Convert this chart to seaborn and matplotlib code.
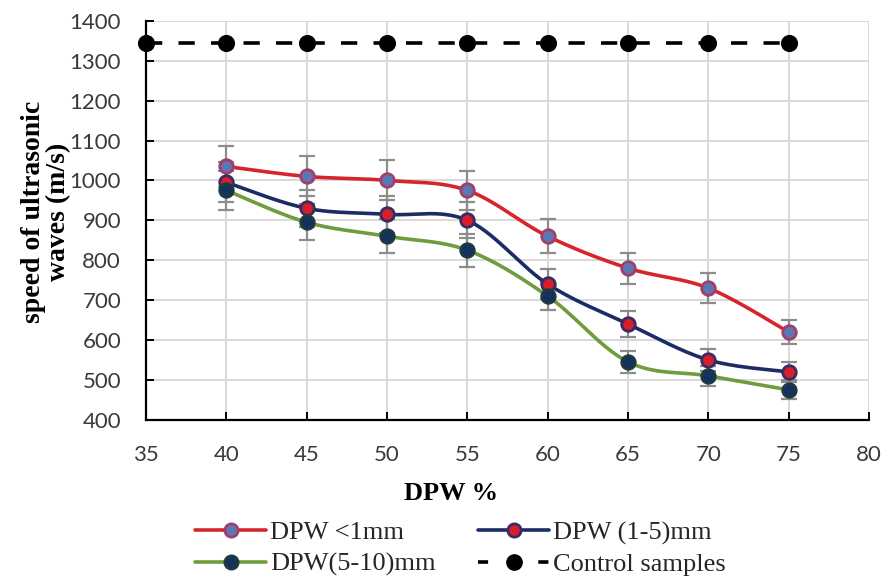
import numpy as np
import pandas as pd
import matplotlib
matplotlib.use("Agg")
import matplotlib.pyplot as plt
from matplotlib.lines import Line2D
import seaborn as sns

# DPW content (%)
dpw = [40, 45, 50, 55, 60, 65, 70, 75]
control_x = [35, 40, 45, 50, 55, 60, 65, 70, 75]

# Ultrasonic pulse velocity (m/s) for each waste particle size
speed_lt1 = [1035, 1010, 1000, 975, 860, 780, 730, 620]
err_lt1 = [52, 50, 50, 49, 43, 39, 37, 31]
speed_1_5 = [995, 930, 915, 900, 740, 640, 550, 520]
err_1_5 = [50, 47, 46, 45, 37, 32, 28, 26]
speed_5_10 = [975, 895, 860, 825, 710, 545, 510, 475]
err_5_10 = [49, 45, 43, 41, 36, 27, 26, 24]
control_speed = [1345] * len(control_x)

labels = ["DPW <1mm", "DPW (1-5)mm", "DPW(5-10)mm", "Control samples"]
x_ticks = [35, 40, 45, 50, 55, 60, 65, 70, 75, 80]
y_ticks = [400, 500, 600, 700, 800, 900, 1000, 1100, 1200, 1300, 1400]

sns.set_theme(style="whitegrid")
plt.rcParams["font.family"] = ["Lato", "DejaVu Sans"]

fig = plt.figure(figsize=(8.85, 5.79), dpi=100)
ax = fig.add_axes([0.165, 0.275, 0.817, 0.689])


def smooth_path(x, y, n=30, tension=0.5):
    """Cardinal-spline path through the points (like a 'smoothed line')."""
    x = np.asarray(x, float)
    y = np.asarray(y, float)
    px = np.concatenate([[x[0]], x, [x[-1]]])
    py = np.concatenate([[y[0]], y, [y[-1]]])
    xs, ys = [], []
    for i in range(1, len(px) - 2):
        p0 = np.array([px[i - 1], py[i - 1]])
        p1 = np.array([px[i], py[i]])
        p2 = np.array([px[i + 1], py[i + 1]])
        p3 = np.array([px[i + 2], py[i + 2]])
        m1 = tension * (p2 - p0)
        m2 = tension * (p3 - p1)
        t = np.linspace(0, 1, n, endpoint=(i == len(px) - 3))
        h00 = 2 * t**3 - 3 * t**2 + 1
        h10 = t**3 - 2 * t**2 + t
        h01 = -2 * t**3 + 3 * t**2
        h11 = t**3 - t**2
        pts = (np.outer(h00, p1) + np.outer(h10, m1)
               + np.outer(h01, p2) + np.outer(h11, m2))
        xs.append(pts[:, 0])
        ys.append(pts[:, 1])
    return np.concatenate(xs), np.concatenate(ys)


series = [
    (speed_lt1, err_lt1, "#d6262b", "#5b78b5", "#a0406a"),
    (speed_1_5, err_1_5, "#1c2c66", "#d81e2a", "#3a2c63"),
    (speed_5_10, err_5_10, "#6f9c3c", "#14325e", "#1e3a40"),
]

# Error bars first so lines and markers sit above them
for vals, errs, line_c, face_c, edge_c in series:
    ax.errorbar(dpw, vals, yerr=errs, fmt="none", ecolor="#8c8c8c",
                elinewidth=1.6, capsize=5.5, capthick=1.6, zorder=2)

for vals, errs, line_c, face_c, edge_c in series:
    sx, sy = smooth_path(dpw, vals)
    ax.plot(sx, sy, color=line_c, lw=2.6, zorder=3, solid_capstyle="round")
    df = pd.DataFrame({"x": dpw, "y": vals})
    sns.scatterplot(data=df, x="x", y="y", ax=ax, s=95, color=face_c,
                    edgecolor=edge_c, linewidth=2.0, zorder=4, legend=False)

# Control samples
ax.plot(control_x, control_speed, color="black", lw=2.6, ls=(0, (4.5, 4.5)),
        zorder=3)
sns.scatterplot(x=control_x, y=control_speed, ax=ax, s=130, color="black",
                edgecolor="black", zorder=5, legend=False, clip_on=False)

ax.set_xlim(35, 80)
ax.set_ylim(400, 1400)
ax.set_xticks(x_ticks)
ax.set_yticks(y_ticks)
ax.grid(True, color="#d9d9d9", lw=1.4)
for s in ["top", "right"]:
    ax.spines[s].set_visible(False)
for s in ["left", "bottom"]:
    ax.spines[s].set_color("black")
    ax.spines[s].set_linewidth(1.6)
ax.tick_params(axis="both", direction="in", length=6, width=1.4,
               colors="black", labelsize=16, left=True, bottom=True)
ax.tick_params(axis="x", pad=18)
ax.tick_params(axis="y", pad=18)
for lab in ax.get_xticklabels() + ax.get_yticklabels():
    lab.set_color("#3a3a3a")

ax.set_xlabel("DPW %", fontfamily="Liberation Serif", fontweight="bold",
              fontsize=19, color="black")
ax.xaxis.set_label_coords(0.422, -0.155)
ax.set_ylabel("speed of ultrasonic\nwaves (m/s)", fontfamily="Liberation Serif",
              fontweight="bold", fontsize=20, color="black", linespacing=1.0)
ax.yaxis.set_label_coords(-0.104, 0.52)

handles = [
    Line2D([], [], color="#d6262b", lw=2.6, marker="o", markersize=9.5,
           markerfacecolor="#5b78b5", markeredgecolor="#a0406a", markeredgewidth=2),
    Line2D([], [], color="#1c2c66", lw=2.6, marker="o", markersize=9.5,
           markerfacecolor="#d81e2a", markeredgecolor="#3a2c63", markeredgewidth=2),
    Line2D([], [], color="#6f9c3c", lw=2.6, marker="o", markersize=9.5,
           markerfacecolor="#14325e", markeredgecolor="#1e3a40", markeredgewidth=2),
    Line2D([], [], color="black", lw=2.6, ls=(0, (2.8, 13.9)), marker="o",
           markersize=11, markerfacecolor="black", markeredgecolor="black"),
]
order = [0, 2, 1, 3]
fig.legend([handles[i] for i in order], [labels[i] for i in order],
           loc="upper left", bbox_to_anchor=(195 / 885, 1 - 521 / 579),
           ncol=2, frameon=False, borderpad=0, borderaxespad=0,
           prop={"family": "Liberation Serif", "size": 19},
           handlelength=2.7, handletextpad=0.15, columnspacing=1.6,
           labelspacing=0.3)

fig.savefig("out.png", dpi=100)
